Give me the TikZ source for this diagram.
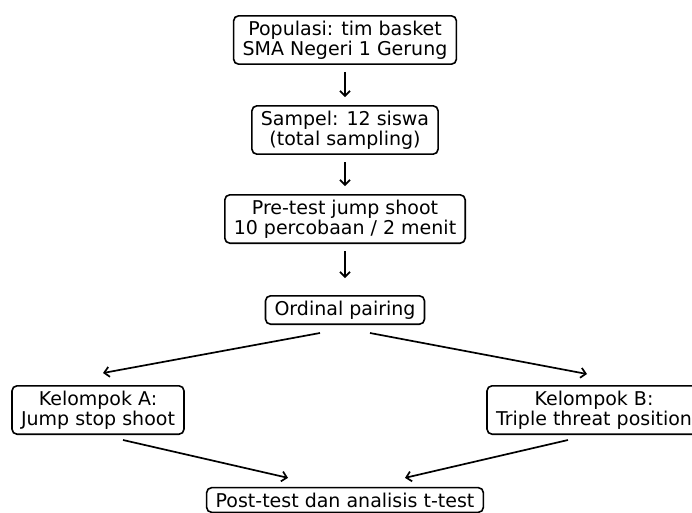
\documentclass[tikz,border=0pt]{standalone}
\usepackage{fontspec}
\setmainfont{DejaVu Sans}
\usetikzlibrary{arrows.meta}

\begin{document}
\begin{tikzpicture}[x=1pt,y=-1pt, box/.style={draw,rounded corners=5pt,align=center,line width=1.6pt,
  inner xsep=9pt,inner ysep=5pt,font=\fontsize{19}{20}\selectfont}, >={Straight Barb[length=5pt,width=10pt]},
  link/.style={->,line width=1.7pt}]
\clip (0,0) rectangle (692,512);
\fill[white] (0,0) rectangle (692,512);
\node[box] (pop) at (345,40) {Populasi: tim basket\\SMA Negeri 1 Gerung};
\node[box] (samp) at (345,130) {Sampel: 12 siswa\\(total sampling)};
\node[box] (pre) at (345,219) {Pre-test jump shoot\\10 percobaan / 2 menit};
\node[box] (ord) at (345,310) {Ordinal pairing};
\node[box] (kA) at (98,410) {Kelompok A:\\Jump stop shoot};
\node[box] (kB) at (594,410) {Kelompok B:\\Triple threat position};
\node[box] (post) at (345,500) {Post-test dan analisis t-test};
\draw[link,shorten <=7pt,shorten >=8pt] (pop) -- (samp);
\draw[link,shorten <=7pt,shorten >=8pt] (samp) -- (pre);
\draw[link,shorten <=7pt,shorten >=17pt] (pre) -- (ord);
\draw[link] ([xshift=-25pt,yshift=-8pt]ord.south) -- ([xshift=5pt,yshift=12pt]kA.north);
\draw[link] ([xshift=25pt,yshift=-8pt]ord.south) -- ([xshift=-7pt,yshift=11pt]kB.north);
\draw[link] ([xshift=25pt,yshift=-5pt]kA.south) -- ([xshift=-57pt,yshift=9pt]post.north);
\draw[link] ([xshift=-26pt,yshift=-5pt]kB.south) -- ([xshift=60pt,yshift=9pt]post.north);
\end{tikzpicture}
\end{document}
